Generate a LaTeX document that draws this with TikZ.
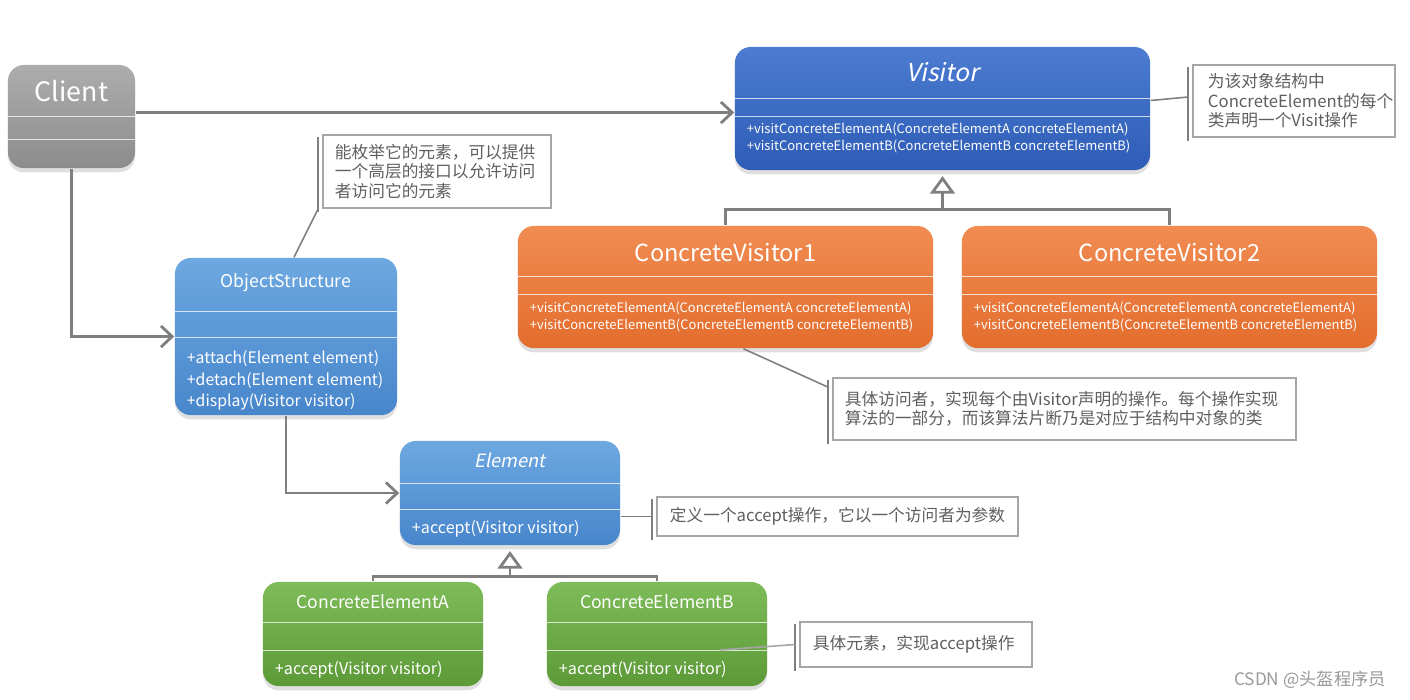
\documentclass[tikz,border=0pt]{standalone}
\usepackage{fontspec}
\setmainfont{Noto Sans CJK SC}[ItalicFont={Noto Sans CJK SC},ItalicFeatures={FakeSlant=0.2}]
\usepackage{tikz}
\usetikzlibrary{arrows.meta, calc, positioning, shadows}
\definecolor{line_gray}{HTML}{7F7F7F}
\definecolor{note_gray}{HTML}{A6A6A6}
\definecolor{note_text}{HTML}{5F5F5F}
\definecolor{gray_top}{HTML}{ADADAD}
\definecolor{gray_bottom}{HTML}{8C8C8C}
\definecolor{dark_blue_top}{HTML}{4C7CD1}
\definecolor{dark_blue_bottom}{HTML}{2E5CB6}
\definecolor{blue_top}{HTML}{6DA8E0}
\definecolor{blue_bottom}{HTML}{4886CC}
\definecolor{orange_top}{HTML}{F18C52}
\definecolor{orange_bottom}{HTML}{E36D2D}
\definecolor{green_top}{HTML}{7EBC5A}
\definecolor{green_bottom}{HTML}{5C9A38}

\begin{document}
\begin{tikzpicture}[x=0.01cm, y=-0.01cm]
	\tikzstyle{class_style}=[rectangle, rounded corners=4.5pt, inner sep=0pt, drop shadow={shadow xshift=0pt, shadow yshift=-1.2pt, opacity=0.25}]
	\tikzstyle{gray_style}=[class_style, top color=gray_top, bottom color=gray_bottom]
	\tikzstyle{dark_blue_style}=[class_style, top color=dark_blue_top, bottom color=dark_blue_bottom]
	\tikzstyle{blue_style}=[class_style, top color=blue_top, bottom color=blue_bottom]
	\tikzstyle{orange_style}=[class_style, top color=orange_top, bottom color=orange_bottom]
	\tikzstyle{green_style}=[class_style, top color=green_top, bottom color=green_bottom]
	\tikzstyle{separator_style}=[draw=white, opacity=0.75, line width=0.4pt]
	\tikzstyle{title_style}=[text=white, inner sep=0pt]
	\tikzstyle{method_style}=[text=white, inner sep=0pt, align=left, anchor=west]
	\tikzstyle{note_style}=[rectangle, draw=note_gray, line width=0.5pt, text=note_text, align=left, inner ysep=0pt, font=\fontsize{4.75}{5.55}\selectfont]
	\tikzstyle{note_line_style}=[draw=line_gray, line width=0.45pt]
	\tikzstyle{assoc_style}=[draw=line_gray, line width=0.8pt, -{Straight Barb[length=3.2pt, width=6pt]}]
	\tikzstyle{inherit_style}=[draw=line_gray, line width=0.8pt, -{Triangle[length=5pt, width=7pt, fill=white]}]
	\useasboundingbox (0,0) rectangle (1410,699);
	% client
	\node at (71.5, 116.5) [gray_style, minimum width=1.27cm, minimum height=1.03cm] (client) {};
	\node at ($(client.north)+(0,27)$) [title_style, font=\fontsize{7.6}{7.6}\selectfont] (client_title) {Client};
	% visitor
	\node at (942.5, 108.5) [dark_blue_style, minimum width=4.15cm, minimum height=1.23cm] (visitor) {};
	\node at ($(visitor.north)+(0,26)$) [title_style, font=\fontsize{7}{7}\selectfont\itshape] (visitor_title) {Visitor};
	\node at ($(visitor.north west)+(12,91.5)$) [method_style, font=\fontsize{3.7}{4.85}\selectfont] (visitor_methods) {+visitConcreteElementA(ConcreteElementA concreteElementA)\\+visitConcreteElementB(ConcreteElementB concreteElementB)};
	% concrete visitors
	\foreach \i/\x in {1/725.5, 2/1169.5}
	{
		\node at (\x, 287) [orange_style, minimum width=4.15cm, minimum height=1.22cm] (concrete_visitor_\i) {};
		\node at ($(concrete_visitor_\i.north)+(0,27)$) [title_style, font=\fontsize{6.7}{6.7}\selectfont] (concrete_visitor_\i_title) {ConcreteVisitor\i};
		\node at ($(concrete_visitor_\i.north west)+(12,91.5)$) [method_style, font=\fontsize{3.7}{4.85}\selectfont] (concrete_visitor_\i_methods) {+visitConcreteElementA(ConcreteElementA concreteElementA)\\+visitConcreteElementB(ConcreteElementB concreteElementB)};
	}
	% object structure
	\node at (286, 336.5) [blue_style, minimum width=2.22cm, minimum height=1.57cm] (object_structure) {};
	\node at ($(object_structure.north)+(0,25)$) [title_style, font=\fontsize{5}{5}\selectfont] (object_structure_title) {ObjectStructure};
	\node at ($(object_structure.north west)+(12,123.5)$) [method_style, font=\fontsize{4.5}{6.1}\selectfont] (object_structure_methods) {+attach(Element element)\\+detach(Element element)\\+display(Visitor visitor)};
	% element
	\node at (510, 493) [blue_style, minimum width=2.2cm, minimum height=1.04cm] (element) {};
	\node at ($(element.north)+(0,20)$) [title_style, font=\fontsize{5.2}{5.2}\selectfont\itshape] (element_title) {Element};
	\node at ($(element.north west)+(12,88)$) [method_style, font=\fontsize{4.6}{4.6}\selectfont] (element_methods) {+accept(Visitor visitor)};
	% concrete elements
	\foreach \i/\x in {A/373, B/657}
	{
		\node at (\x, 634) [green_style, minimum width=2.2cm, minimum height=1.04cm] (element_\i) {};
		\node at ($(element_\i.north)+(0,20)$) [title_style, font=\fontsize{5}{5}\selectfont] (element_\i_title) {ConcreteElement\i};
		\node at ($(element_\i.north west)+(12,88)$) [method_style, font=\fontsize{4.6}{4.6}\selectfont] (element_\i_methods) {+accept(Visitor visitor)};
	}
	% compartments
	\foreach \n/\a/\b in {client/52/75, visitor/52/70, concrete_visitor_1/51/69, concrete_visitor_2/51/69, object_structure/54/80, element/43/69, element_A/41/69, element_B/41/69}
	{
		\draw[separator_style] ($(\n.north west)+(0,\a)$) -- ($(\n.north east)+(0,\a)$);
		\draw[separator_style] ($(\n.north west)+(0,\b)$) -- ($(\n.north east)+(0,\b)$);
	}
	% notes
	\node at (1294, 101) [note_style, inner xsep=4.3pt, text width=1.72cm, minimum width=2.02cm, minimum height=0.72cm] (note_visitor) {为该对象结构中\\ConcreteElement的每个\\类声明一个Visit操作};
	\node at (437, 171.5) [note_style, inner xsep=3.4pt, text width=2.04cm, minimum width=2.28cm, minimum height=0.73cm] (note_object_structure) {能枚举它的元素，可以提供\\一个高层的接口以允许访问\\者访问它的元素};
	\node at (1064.5, 409) [note_style, inner xsep=3.4pt, text width=4.39cm, minimum width=4.63cm, minimum height=0.62cm] (note_concrete_visitor) {具体访问者，实现每个由Visitor声明的操作。每个操作实现\\算法的一部分，而该算法片断乃是对应于结构中对象的类};
	\node at (837.5, 516.5) [note_style, inner xsep=3.7pt, text width=3.35cm, minimum width=3.61cm, minimum height=0.39cm] (note_element) {定义一个accept操作，它以一个访问者为参数};
	\node at (916, 644.5) [note_style, inner xsep=3.7pt, text width=2.06cm, minimum width=2.32cm, minimum height=0.45cm] (note_concrete_element) {具体元素，实现accept操作};
	\foreach \n in {note_visitor, note_object_structure, note_concrete_visitor, note_element, note_concrete_element}
		\draw[note_line_style] ($(\n.north west)+(-4,3)$) -- ($(\n.south west)+(-4,3)$);
	% connect: notes
	\draw[note_line_style] ($(visitor.east)+(0,-8)$) -- ($(note_visitor.west)+(-4,-4)$);
	\draw[note_line_style] ($(object_structure.north)+(8,0)$) -- ($(note_object_structure.south west)+(-4,0)$);
	\draw[note_line_style] ($(concrete_visitor_1.south)+(18,0)$) -- ($(note_concrete_visitor.north west)+(-4,10)$);
	\draw[note_line_style] (element.east |- note_element.west) -- ($(note_element.west)+(-4,0)$);
	\draw[note_line_style, draw=note_gray] ($(element_B.east)+(-48,16)$) -- ($(note_concrete_element.west)+(-4,0)$);
	% connect: client -> visitor, object structure -> element
	\draw[assoc_style] ($(client.east)+(0,-4)$) -- ($(client.east -| visitor.west)+(0,-4)$);
	\draw[assoc_style] (client.south) |- (object_structure.west);
	\draw[assoc_style] (object_structure.south) |- (element.west);
	% connect: inheritance
	\coordinate (visitor_join) at ($(visitor.south)+(0,39)$);
	\draw[line_gray, line width=0.8pt] (concrete_visitor_1.north) |- (visitor_join) -| (concrete_visitor_2.north);
	\draw[inherit_style, shorten >=1.5pt] (visitor_join) -- (visitor.south);
	\coordinate (element_join) at ($(element.south)+(0,31)$);
	\draw[line_gray, line width=0.8pt] (element_A.north) |- (element_join) -| (element_B.north);
	\draw[inherit_style, shorten >=1.5pt] (element_join) -- (element.south);
	% watermark
	\node at (1310, 680) [text=gray!80, font=\fontsize{4.9}{4.9}\selectfont] (watermark) {CSDN @头盔程序员};
\end{tikzpicture}
\end{document}
